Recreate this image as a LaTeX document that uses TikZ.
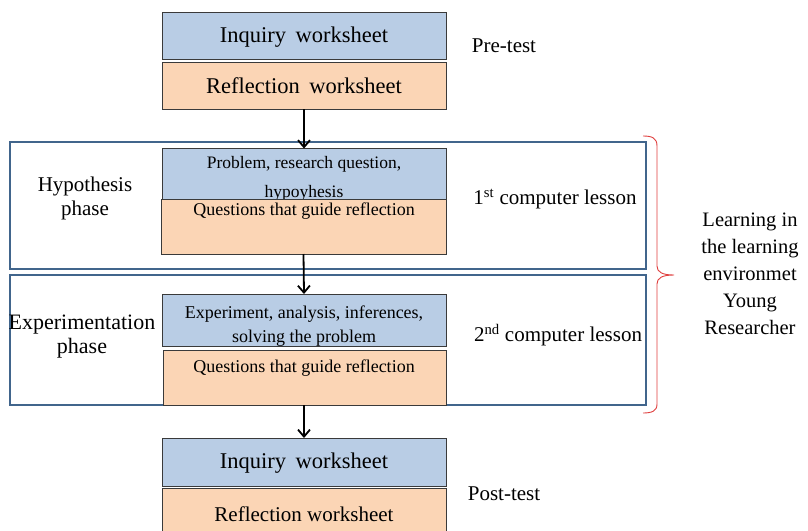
\documentclass[tikz,border=0pt]{standalone}
\usepackage{fontspec}
\setmainfont{Liberation Serif}
\usetikzlibrary{arrows.meta}
\definecolor{bluefill}{HTML}{B9CDE5}
\definecolor{orangefill}{HTML}{FBD5B5}
\definecolor{framecol}{HTML}{41658C}
\definecolor{bracecol}{HTML}{E0403F}
\definecolor{boxline}{HTML}{3A3A3A}
\begin{document}
\begin{tikzpicture}[x=1pt,y=-1pt,
  bluebox/.style={draw=boxline,line width=0.8pt,fill=bluefill,inner sep=0pt,outer sep=0pt},
  orangebox/.style={draw=boxline,line width=0.8pt,fill=orangefill,inner sep=0pt,outer sep=0pt},
  framebox/.style={draw=framecol,line width=2.2pt,fill=white,inner sep=0pt,outer sep=0pt},
  txt/.style={inner sep=0pt,align=center,font=\fontsize{#1}{#1}\selectfont},
  arr/.style={line width=1.8pt,-{Straight Barb[length=7pt,width=12pt,line width=1.8pt]}}]
\useasboundingbox (0,0) rectangle (808,530);
\fill[white] (0,0) rectangle (808,530);
% top boxes
\node[bluebox,minimum width=284pt,minimum height=47pt] (inq1) at (304,35.5) {};
\node[orangebox,minimum width=284pt,minimum height=47pt] (ref1) at (304,85.5) {};
\node[txt=22.5] (inq1t) at (304,37) {Inquiry\, worksheet};
\node[txt=22.5] (ref1t) at (304,86) {Reflection\, worksheet};
\node[txt=21] (pre) at (504,46) {Pre-test};
% frames
\node[framebox,minimum width=636pt,minimum height=127pt] (fr1) at (328,205.5) {};
\node[framebox,minimum width=636pt,minimum height=130pt] (fr2) at (328,340) {};
% frame 1 content
\node[bluebox,minimum width=284pt,minimum height=51pt] (b1) at (304,174) {};
\node[txt=17.5] (b1t1) at (304,164) {Problem, research question,};
\node[txt=17.5] (b1t2) at (304,193.5) {hypoyhesis};
\node[orangebox,minimum width=285pt,minimum height=55pt] (o1) at (303.5,226.5) {};
\node[txt=18] (o1t) at (304,211) {Questions that guide reflection};
\node[txt=21] (hyp) at (85,198) {Hypothesis\\[3pt]phase};
\node[txt=21] (l1) at (555,199) {1\textsuperscript{st} computer lesson};
% frame 2 content
\node[bluebox,minimum width=284pt,minimum height=52pt] (b2) at (304,320) {};
\node[txt=18] (b2t) at (304,326) {Experiment, analysis, inferences,\\[6pt]solving the problem};
\node[orangebox,minimum width=283pt,minimum height=55pt] (o2) at (304.5,377.5) {};
\node[txt=18] (o2t) at (304,368) {Questions that guide reflection};
\node[txt=22] (exp) at (82,337) {Experimentation\\[2pt]phase};
\node[txt=21] (l2) at (558,335) {2\textsuperscript{nd} computer lesson};
% bottom boxes
\node[bluebox,minimum width=284pt,minimum height=48pt] (inq2) at (304,462) {};
\node[orangebox,minimum width=284pt,minimum height=44pt] (ref2) at (304,510) {};
\node[txt=22.5] (inq2t) at (304,463) {Inquiry\, worksheet};
\node[txt=21] (ref2t) at (304,514) {Reflection worksheet};
\node[txt=21] (post) at (504,494) {Post-test};
% arrows
\draw[arr] (ref1.south) -- (b1.north);
\draw[arr] (o1.south) -- (b2.north);
\draw[arr] (o2.south -| inq2.north) -- (inq2.north);
% brace
\draw[bracecol,line width=0.9pt] (643,136) .. controls (652,136) and (657,138) .. (657,146) -- (657,266) .. controls (657,272) and (662,275) .. (674,275) .. controls (662,275) and (657,278) .. (657,284) -- (657,404) .. controls (657,411) and (652,413) .. (643,413);
\node[txt=20.5,align=center] (learn) at (750,273.5) {Learning in\\[6.5pt]the learning\\[6.5pt]environmet\\[6.5pt]Young\\[6.5pt]Researcher};
\end{tikzpicture}
\end{document}
